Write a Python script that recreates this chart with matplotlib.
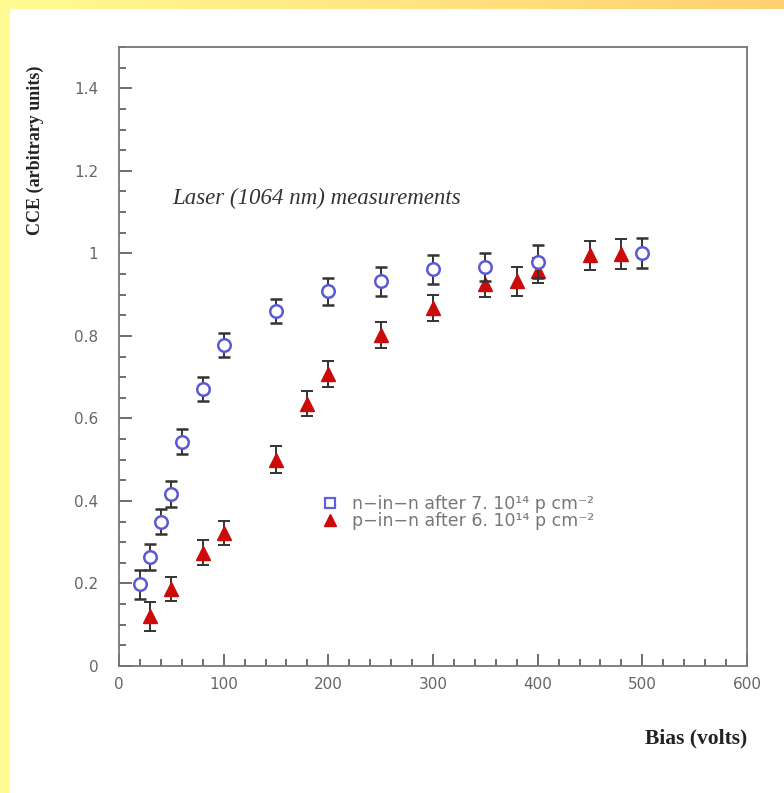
import numpy as np
import matplotlib
matplotlib.use('Agg')
import matplotlib.pyplot as plt
from matplotlib.lines import Line2D
from matplotlib.patches import Rectangle
from matplotlib.ticker import MultipleLocator, FormatStrFormatter

# n-in-n after 7e14 p/cm2 (open blue circles)
nn_bias = [20, 30, 40, 50, 60, 80, 100, 150, 200, 250, 300, 350, 400, 500]
nn_cce = [0.198, 0.264, 0.350, 0.417, 0.544, 0.671, 0.778, 0.860, 0.908, 0.932, 0.961, 0.967, 0.980, 1.000]
nn_err = [0.035, 0.031, 0.030, 0.031, 0.030, 0.029, 0.030, 0.030, 0.032, 0.036, 0.036, 0.034, 0.040, 0.036]

# p-in-n after 6e14 p/cm2 (filled red triangles)
pn_bias = [30, 50, 80, 100, 150, 180, 200, 250, 300, 350, 380, 400, 450, 480]
pn_cce = [0.121, 0.187, 0.275, 0.323, 0.500, 0.636, 0.707, 0.802, 0.868, 0.926, 0.932, 0.958, 0.995, 0.998]
pn_err = [0.035, 0.029, 0.031, 0.029, 0.032, 0.030, 0.031, 0.032, 0.031, 0.033, 0.035, 0.030, 0.036, 0.036]

W, H = 784, 793
fig = plt.figure(figsize=(W / 100, H / 100), dpi=100)
fig.patch.set_facecolor('white')

# yellow frame: gradient band on top, flat band on the left
top = fig.add_axes([0, 1 - 9 / H, 1, 9 / H])
grad = np.linspace(0, 1, 256)
c0 = np.array([1.0, 0.984, 0.58])
c1 = np.array([1.0, 0.815, 0.44])
img = (c0[None, :] * (1 - grad[:, None]) + c1[None, :] * grad[:, None])[None, :, :]
top.imshow(img, aspect='auto', extent=[0, 1, 0, 1])
top.set_axis_off()
fig.patches.append(Rectangle((0, 0), 10 / W, 1, transform=fig.transFigure,
                             facecolor='#fffb94', edgecolor='none', zorder=5))

ax = fig.add_axes([119 / W, 1 - 666 / H, (747 - 119) / W, (666 - 47) / H])

ax.errorbar(nn_bias, nn_cce, yerr=nn_err, fmt='o', ms=9, mfc='white', mec='#5a5ad6',
            mew=1.8, ecolor='#333333', elinewidth=1.4, capsize=4.5, capthick=1.4, zorder=3)
ax.errorbar(pn_bias, pn_cce, yerr=pn_err, fmt='^', ms=10, mfc='#cc0a0a', mec='#cc0a0a',
            ecolor='#333333', elinewidth=1.4, capsize=4.5, capthick=1.4, zorder=2)

ax.set_xlim(0, 600)
ax.set_ylim(0, 1.5)
ax.xaxis.set_major_locator(MultipleLocator(100))
ax.xaxis.set_minor_locator(MultipleLocator(20))
ax.yaxis.set_minor_locator(MultipleLocator(0.05))
ax.set_yticks(np.arange(0, 1.41, 0.2))
ax.yaxis.set_major_formatter(FormatStrFormatter('%g'))
ax.tick_params(which='both', direction='in', colors='#555555', width=1.2,
               labelcolor='#666666', labelsize=11)
ax.tick_params(which='major', length=9)
ax.tick_params(which='minor', length=5)
ax.tick_params(axis='x', which='major', pad=8)
ax.tick_params(axis='y', which='major', pad=15)
for s in ax.spines.values():
    s.set_color('#777777')
    s.set_linewidth(1.3)

fig.text(35 / W, 1 - 150 / H, 'CCE (arbitrary units)', rotation=90, ha='center', va='center',
         family='Liberation Serif', weight='bold', fontsize=13, color='#222222')
fig.text(747 / W, 1 - 738 / H, 'Bias (volts)', ha='right', va='center',
         family='Liberation Serif', weight='bold', fontsize=15.5, color='#222222')
ax.text(0.085, 0.755, 'Laser (1064 nm) measurements', transform=ax.transAxes,
        family='Liberation Serif', style='italic', fontsize=16.5, color='#333333', va='center')

handles = [Line2D([], [], ls='none', marker='s', ms=7, mfc='white', mec='#6060dd', mew=1.6),
           Line2D([], [], ls='none', marker='^', ms=9, mfc='#cc0a0a', mec='#cc0a0a')]
labels = ['n\u2212in\u2212n after 7. 10\u00b9\u2074 p cm\u207b\u00b2',
          'p\u2212in\u2212n after 6. 10\u00b9\u2074 p cm\u207b\u00b2']
leg = ax.legend(handles, labels, loc='upper left', bbox_to_anchor=(0.298, 0.301),
                frameon=False, handlelength=1.0, handletextpad=0.75, labelspacing=-0.05,
                prop={'family': 'DejaVu Sans', 'size': 12.5})
for t in leg.get_texts():
    t.set_color('#777777')

fig.savefig('out.png', dpi=100, facecolor='white')
